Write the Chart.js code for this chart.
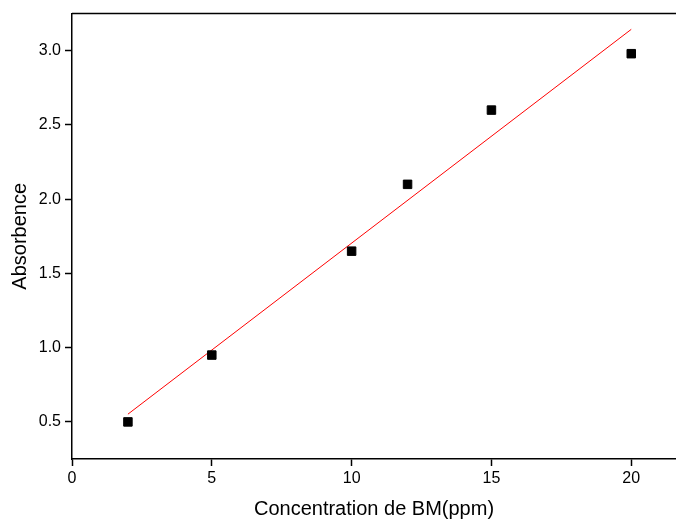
<!DOCTYPE html>
<html>
<head>
<meta charset="utf-8">
<script src="https://cdn.jsdelivr.net/npm/chart.js@4/dist/chart.umd.min.js"></script>
<style>
  html, body { margin: 0; padding: 0; background: #fff; }
  #wrap { width: 676px; height: 521px; }
</style>
</head>
<body>
<div id="wrap"><canvas id="chart" width="676" height="521"></canvas></div>
<script>
// measured data
const concentrations = [2, 5, 10, 12, 15, 20];
const absorbances = [0.5, 0.95, 1.65, 2.1, 2.6, 2.98];

// linear fit line, end points
const fitX = [2, 20];
const fitY = [0.552, 3.144];

const xTicks = [0, 5, 10, 15, 20];
const yTicks = [0.5, 1.0, 1.5, 2.0, 2.5, 3.0];

const FONT = 'Liberation Sans, Arial, sans-serif';

// stretch the plot area to the right edge of the canvas (the original is cut there)
const fullWidth = {
    id: 'fullWidth',
    afterLayout: function(chart) {
        const gap = chart.width - chart.chartArea.right;
        if (gap <= 0) {
            return;
        }
        const xs = chart.scales.x;
        chart.chartArea.right += gap;
        chart.chartArea.width += gap;
        xs.right += gap;
        xs.width += gap;
        xs.configure();
    }
};

// draws the top frame line (no right frame in the original)
const topBorder = {
    id: 'topBorder',
    afterDraw: function(chart) {
        const a = chart.chartArea;
        const ctx = chart.ctx;
        ctx.save();
        ctx.strokeStyle = '#000';
        ctx.lineWidth = 1.5;
        ctx.beginPath();
        ctx.moveTo(a.left, a.top);
        ctx.lineTo(chart.width, a.top);
        ctx.stroke();
        ctx.restore();
    }
};

const toPoints = function(xs, ys) {
    return xs.map(function(x, i) { return {x: x, y: ys[i]}; });
};

new Chart(document.getElementById('chart'), {
    data: {
        datasets: [
            {
                type: 'scatter',
                data: toPoints(concentrations, absorbances),
                pointStyle: 'rect',
                pointRadius: 6,
                pointBackgroundColor: '#000',
                pointBorderColor: '#000',
                pointBorderWidth: 1,
                order: 1
            },
            {
                type: 'line',
                data: toPoints(fitX, fitY),
                borderColor: '#ff0000',
                borderWidth: 1,
                pointRadius: 0,
                fill: false,
                order: 2
            }
        ]
    },
    options: {
        responsive: false,
        animation: false,
        layout: { padding: { top: 13, right: 0, bottom: 0, left: 0 } },
        plugins: {
            legend: { display: false },
            tooltip: { enabled: false }
        },
        scales: {
            x: {
                type: 'linear',
                min: 0,
                max: 21.6,
                afterFit: function(scale) { scale.height = 62; },
                afterBuildTicks: function(scale) {
                    scale.ticks = xTicks.map(function(v) { return {value: v}; });
                },
                ticks: {
                    color: '#000',
                    font: { family: FONT, size: 16 },
                    padding: 3,
                    maxRotation: 0,
                    callback: function(v) { return String(v); }
                },
                grid: {
                    display: true,
                    drawOnChartArea: false,
                    drawTicks: true,
                    tickLength: 7,
                    tickWidth: 1.5,
                    color: '#000'
                },
                border: { display: true, color: '#000', width: 1.5 },
                title: {
                    display: true,
                    text: 'Concentration de BM(ppm)',
                    color: '#000',
                    font: { family: FONT, size: 20 },
                    padding: { top: 0, bottom: 0 }
                }
            },
            y: {
                type: 'linear',
                min: 0.25,
                max: 3.25,
                afterFit: function(scale) { scale.width = 72; },
                afterBuildTicks: function(scale) {
                    scale.ticks = yTicks.map(function(v) { return {value: v}; });
                },
                ticks: {
                    color: '#000',
                    font: { family: FONT, size: 16 },
                    padding: 4,
                    callback: function(v) { return Number(v).toFixed(1); }
                },
                grid: {
                    display: true,
                    drawOnChartArea: false,
                    drawTicks: true,
                    tickLength: 7,
                    tickWidth: 1.5,
                    color: '#000'
                },
                border: { display: true, color: '#000', width: 1.5 },
                title: {
                    display: true,
                    text: 'Absorbence',
                    color: '#000',
                    font: { family: FONT, size: 20 },
                    padding: { top: 8, bottom: 0 }
                }
            }
        }
    },
    plugins: [fullWidth, topBorder]
});
</script>
</body>
</html>
